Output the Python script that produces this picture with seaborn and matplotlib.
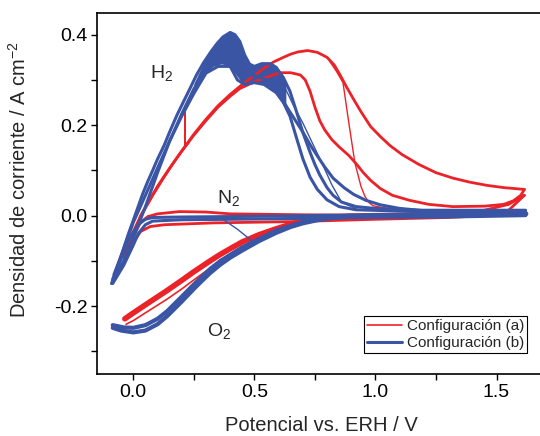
import numpy as np
import matplotlib
matplotlib.use('Agg')
import matplotlib.pyplot as plt
from matplotlib.lines import Line2D
import seaborn as sns

# colours of the two configurations
RED = '#ec2229'
BLUE = '#3b55a5'

# ---------------- configuracion (a) : red ----------------
# H2, anodic sweep
rh2_fwd_v = [-0.045, -0.02, 0.0, 0.03, 0.08, 0.13, 0.17, 0.21, 0.25, 0.30, 0.35, 0.40, 0.45, 0.50, 0.54,
             0.58, 0.62, 0.65, 0.68, 0.72, 0.76, 0.80, 0.83, 0.855, 0.88, 0.91, 0.94, 0.98, 1.02, 1.06,
             1.11, 1.18, 1.25, 1.32, 1.39, 1.46, 1.53, 1.615]
rh2_fwd_j = [-0.09, -0.06, -0.035, -0.002, 0.045, 0.088, 0.12, 0.15, 0.18, 0.213, 0.243, 0.268, 0.29, 0.31, 0.326,
             0.34, 0.35, 0.357, 0.362, 0.365, 0.361, 0.35, 0.333, 0.31, 0.285, 0.257, 0.23, 0.197, 0.175, 0.155,
             0.135, 0.113, 0.095, 0.083, 0.074, 0.067, 0.062, 0.058]
# H2, cathodic sweep
rh2_rev_v = [1.615, 1.60, 1.57, 1.53, 1.45, 1.32, 1.22, 1.14, 1.07, 1.02, 0.98, 0.95, 0.92, 0.89, 0.85,
             0.82, 0.79, 0.77, 0.75, 0.73, 0.71, 0.69, 0.65, 0.605, 0.55, 0.50, 0.44, 0.40, 0.35, 0.30,
             0.25, 0.20, 0.15, 0.10, 0.03, 0.0, -0.045]
rh2_rev_j = [0.058, 0.045, 0.033, 0.025, 0.021, 0.02, 0.025, 0.034, 0.045, 0.06, 0.078, 0.095, 0.115, 0.133, 0.152,
             0.168, 0.19, 0.21, 0.24, 0.275, 0.30, 0.311, 0.316, 0.316, 0.306, 0.296, 0.281, 0.264, 0.24, 0.21,
             0.178, 0.143, 0.105, 0.065, 0.0, -0.04, -0.09]
# single cycles with glitches
rh2_spike_v = [0.20, 0.214, 0.214, 0.214, 0.23]
rh2_spike_j = [0.142, 0.151, 0.236, 0.151, 0.161]
rh2_drop_v = [0.80, 0.84, 0.866, 0.89, 0.915, 0.94, 0.957, 0.975, 0.99, 1.05, 1.15]
rh2_drop_j = [0.35, 0.318, 0.294, 0.205, 0.117, 0.065, 0.042, 0.028, 0.022, 0.016, 0.015]
# N2
rn2_fwd_v = [-0.04, 0.0, 0.03, 0.06, 0.10, 0.19, 0.30, 0.40, 0.70, 1.0, 1.3, 1.45, 1.55, 1.615]
rn2_fwd_j = [-0.09, -0.045, -0.015, -0.002, 0.004, 0.009, 0.008, 0.004, 0.002, 0.001, 0.004, 0.012, 0.025, 0.045]
rn2_rev_v = [1.615, 1.55, 1.45, 1.3, 1.0, 0.675, 0.33, 0.13, 0.07, 0.03, 0.0, -0.04]
rn2_rev_j = [0.045, 0.012, 0.0, -0.004, -0.008, -0.013, -0.016, -0.02, -0.024, -0.035, -0.06, -0.09]
# O2
ro2_a_v = [-0.035, 0.0, 0.07, 0.138, 0.20, 0.25, 0.317, 0.358, 0.40, 0.45, 0.52, 0.59, 0.65, 0.70, 0.76,
           0.81, 0.90, 1.0, 1.3, 1.62]
ro2_a_j = [-0.228, -0.215, -0.19, -0.166, -0.143, -0.124, -0.100, -0.086, -0.073, -0.058, -0.042, -0.029, -0.019, -0.012, -0.007,
           -0.004, -0.001, 0.0, 0.002, 0.004]
ro2_b_v = [-0.03, 0.0, 0.07, 0.138, 0.20, 0.25, 0.317, 0.358, 0.45, 0.52, 0.59, 0.70, 0.81, 0.90]
ro2_b_j = [-0.24, -0.232, -0.208, -0.185, -0.162, -0.142, -0.116, -0.100, -0.068, -0.049, -0.033, -0.015, -0.005, -0.002]

# ---------------- configuracion (b) : blue ----------------
bh2_fwd_v = [-0.09, -0.07, -0.05, -0.02, 0.0, 0.02, 0.04, 0.06, 0.08, 0.10, 0.127, 0.15, 0.18, 0.21, 0.235,
             0.26, 0.29, 0.32, 0.345, 0.37, 0.40, 0.42, 0.44, 0.46, 0.48, 0.50, 0.53, 0.565, 0.59, 0.62,
             0.647, 0.675, 0.70, 0.73, 0.75, 0.77, 0.80, 0.825, 0.86, 0.92, 1.0, 1.18, 1.62]
bh2_fwd_j = [-0.15, -0.12, -0.088, -0.04, -0.01, 0.02, 0.05, 0.076, 0.10, 0.125, 0.155, 0.185, 0.222, 0.255, 0.282,
             0.31, 0.338, 0.362, 0.38, 0.395, 0.405, 0.400, 0.385, 0.355, 0.335, 0.330, 0.336, 0.336, 0.328, 0.305,
             0.275, 0.228, 0.184, 0.14, 0.113, 0.09, 0.062, 0.045, 0.03, 0.02, 0.016, 0.012, 0.012]
bh2_low_v = [-0.08, -0.04, 0.0, 0.05, 0.10, 0.15, 0.20, 0.25, 0.30, 0.35, 0.40, 0.43, 0.46, 0.50, 0.54,
             0.59, 0.62, 0.647, 0.675, 0.70, 0.73, 0.76, 0.80, 0.85, 0.92, 1.18, 1.62]
bh2_low_j = [-0.13, -0.075, -0.015, 0.045, 0.105, 0.165, 0.22, 0.27, 0.315, 0.33, 0.33, 0.30, 0.29, 0.294, 0.29,
             0.272, 0.25, 0.22, 0.17, 0.126, 0.085, 0.058, 0.035, 0.02, 0.013, 0.009, 0.005]
bh2_rev_v = [1.62, 1.40, 1.20, 1.10, 1.02, 0.96, 0.91, 0.87, 0.825, 0.79, 0.76, 0.73, 0.70, 0.67, 0.64,
             0.60, 0.55, 0.50, 0.45, 0.40, 0.35, 0.30, 0.25, 0.20, 0.15, 0.10, 0.05, 0.0, -0.04, -0.085]
bh2_rev_j = [0.007, 0.008, 0.011, 0.016, 0.024, 0.034, 0.047, 0.062, 0.083, 0.108, 0.132, 0.157, 0.185, 0.21, 0.235,
             0.27, 0.30, 0.31, 0.31, 0.33, 0.345, 0.325, 0.28, 0.225, 0.165, 0.095, 0.02, -0.05, -0.10, -0.145]
bh2_thin_v = [0.62, 0.66, 0.70, 0.74, 0.78, 0.82, 0.86, 0.92]
bh2_thin_j = [0.29, 0.245, 0.205, 0.16, 0.115, 0.068, 0.03, 0.015]
# dense part of the blue H2 bundle
band_v = [0.25, 0.29, 0.33, 0.36, 0.38, 0.40, 0.42, 0.44, 0.46, 0.48, 0.50, 0.53, 0.565, 0.60, 0.63]
band_hi = [0.292, 0.338, 0.372, 0.392, 0.400, 0.405, 0.400, 0.385, 0.355, 0.335, 0.330, 0.336, 0.336, 0.320, 0.295]
band_lo = [0.270, 0.310, 0.330, 0.335, 0.335, 0.330, 0.315, 0.300, 0.290, 0.290, 0.294, 0.292, 0.285, 0.262, 0.235]
# N2
bn2_fwd_v = [-0.085, -0.05, -0.02, 0.02, 0.05, 0.08, 0.2, 0.4, 0.7, 1.0, 1.3, 1.62]
bn2_fwd_j = [-0.14, -0.095, -0.055, -0.02, -0.008, -0.004, -0.003, -0.002, 0.0, 0.002, 0.004, 0.008]
bn2_rev_v = [1.62, 1.3, 1.0, 0.7, 0.4, 0.2, 0.08, 0.05, 0.02, 0.0, -0.04, -0.085]
bn2_rev_j = [0.0, -0.003, -0.004, -0.006, -0.008, -0.009, -0.012, -0.02, -0.04, -0.065, -0.11, -0.15]
bn2_glitch_v = [0.30, 0.37, 0.43, 0.495, 0.54]
bn2_glitch_j = [-0.007, -0.008, -0.03, -0.058, -0.048]
# O2
bo2_a_v = [1.62, 1.3, 1.0, 0.90, 0.81, 0.76, 0.70, 0.65, 0.59, 0.52, 0.45, 0.40, 0.36, 0.317, 0.28,
           0.25, 0.20, 0.17, 0.14, 0.10, 0.05, 0.0, -0.05, -0.085]
bo2_a_j = [0.004, 0.003, 0.001, -0.002, -0.006, -0.01, -0.017, -0.025, -0.038, -0.056, -0.077, -0.093, -0.108, -0.127, -0.146,
           -0.162, -0.19, -0.206, -0.222, -0.24, -0.254, -0.258, -0.254, -0.248]
bo2_b_v = [0.90, 0.81, 0.70, 0.59, 0.45, 0.36, 0.317, 0.25, 0.20, 0.14, 0.10, 0.05, 0.0, -0.04, -0.085]
bo2_b_j = [-0.001, -0.004, -0.014, -0.033, -0.07, -0.1, -0.118, -0.152, -0.179, -0.211, -0.228, -0.242, -0.248, -0.247, -0.242]

sns.set_theme(style='ticks')
plt.rcParams['font.family'] = ['Liberation Sans', 'DejaVu Sans']
plt.rcParams['mathtext.default'] = 'regular'

fig = plt.figure(figsize=(5.4, 4.36), dpi=100)
ax = fig.add_axes([0.1796, 0.1422, 0.8296, 0.828])


def curve(v, j, color, lw):
    sns.lineplot(x=v, y=j, sort=False, estimator=None, color=color, lw=lw, ax=ax)


# red curves
for v, j in [(rh2_fwd_v, rh2_fwd_j), (rh2_rev_v, rh2_rev_j), (rn2_fwd_v, rn2_fwd_j),
             (rn2_rev_v, rn2_rev_j)]:
    curve(v, j, RED, 2.0)
curve(ro2_a_v, ro2_a_j, RED, 4.0)
curve(ro2_b_v, ro2_b_j, RED, 1.2)
curve(rh2_spike_v, rh2_spike_j, RED, 1.0)
curve(rh2_drop_v, rh2_drop_j, RED, 1.0)

# blue curves
ax.fill_between(band_v, band_lo, band_hi, color=BLUE, lw=0)
for v, j in [(bh2_fwd_v, bh2_fwd_j), (bh2_low_v, bh2_low_j), (bh2_rev_v, bh2_rev_j),
             (bn2_fwd_v, bn2_fwd_j), (bn2_rev_v, bn2_rev_j)]:
    curve(v, j, BLUE, 2.2)
curve(bo2_a_v, bo2_a_j, BLUE, 3.0)
curve(bo2_b_v, bo2_b_j, BLUE, 3.0)
curve(bh2_thin_v, bh2_thin_j, BLUE, 1.0)
curve(bn2_glitch_v, bn2_glitch_j, BLUE, 1.0)

ax.text(0.07, 0.305, 'H$_2$', fontsize=14)
ax.text(0.345, 0.029, 'N$_2$', fontsize=14)
ax.text(0.304, -0.265, 'O$_2$', fontsize=14)

ax.set_xlim(-0.15, 1.70)
ax.set_ylim(-0.35, 0.448)
ax.set_xticks([0.0, 0.5, 1.0, 1.5])
ax.set_xticks([0.25, 0.75, 1.25], minor=True)
ax.set_yticks([-0.2, 0.0, 0.2, 0.4])
ax.set_yticks([-0.3, -0.1, 0.1, 0.3], minor=True)
ax.set_xticklabels(['0.0', '0.5', '1.0', '1.5'])
ax.set_yticklabels(['-0.2', '0.0', '0.2', '0.4'])
ax.tick_params(which='both', direction='out', length=4, width=1, colors='black',
               labelsize=14, pad=3, top=False, right=False)
for s in ax.spines.values():
    s.set_linewidth(1.2)
    s.set_color('black')

ax.set_xlabel('Potencial vs. ERH / V', fontsize=14.5, labelpad=11)
ax.set_ylabel('Densidad de corriente / A cm$^{-2}$', fontsize=14.5)
ax.yaxis.set_label_coords(-0.15, 0.54)

handles = [Line2D([], [], color=RED, lw=1.2), Line2D([], [], color=BLUE, lw=2.2)]
leg = ax.legend(handles, ['Configuración (a)', 'Configuración (b)'], loc='lower right',
                bbox_to_anchor=(0.96, 0.058), borderaxespad=0, fontsize=11,
                frameon=True, fancybox=False, framealpha=1, edgecolor='black',
                handlelength=2.3, handletextpad=0.3, borderpad=0.2, labelspacing=0.2)
leg.get_frame().set_linewidth(0.8)

fig.savefig('out.png', dpi=100)
